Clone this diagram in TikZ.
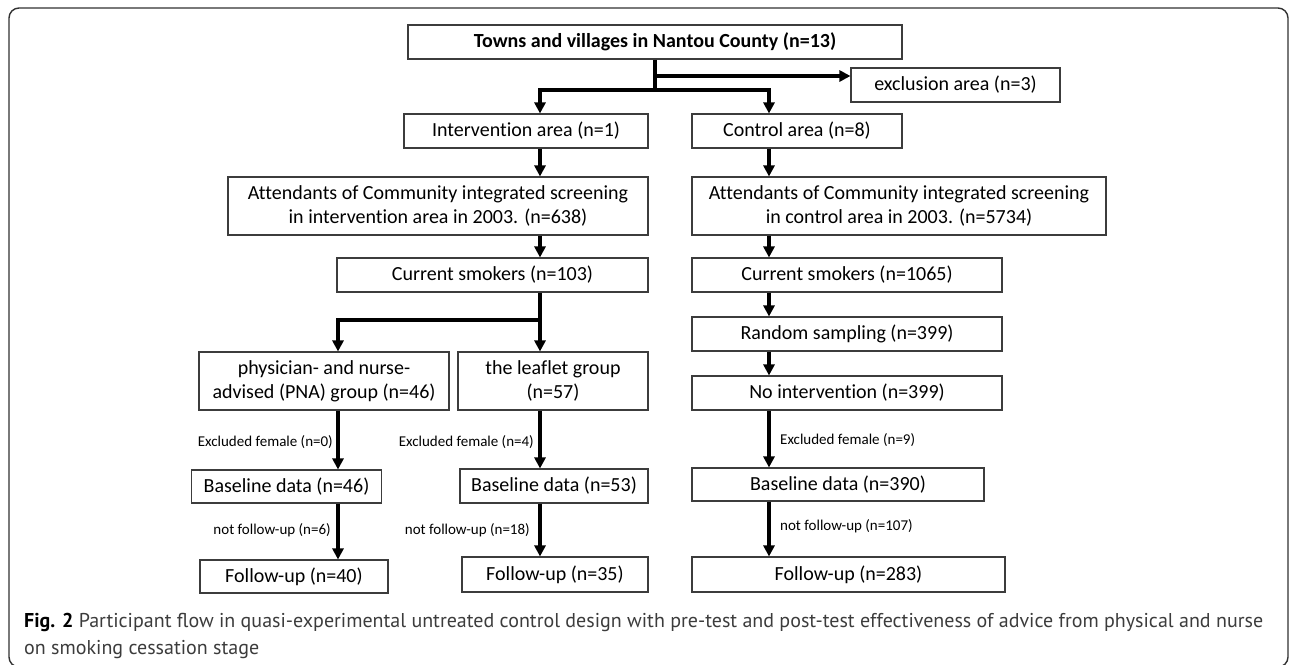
\documentclass[tikz,border=0pt]{standalone}
\usepackage{fontspec}
\setmainfont{Carlito}[Ligatures={CommonOff,ContextualOff},Contextuals=AlternateOff]
\newfontfamily\capfont{PT Sans}
\newfontfamily\lblfont{Carlito}[Ligatures={CommonOff,ContextualOff},Contextuals=AlternateOff]
\usetikzlibrary{arrows.meta}
\definecolor{boxgray}{RGB}{60,60,60}
\definecolor{capgray}{RGB}{60,60,60}
\definecolor{framegray}{RGB}{50,50,50}
\tikzset{
  box/.style={draw=boxgray, line width=1.1pt, inner sep=0pt, align=center,
    font=\fontsize{20}{24}\selectfont, text=black},
  conn/.style={line width=3.6pt, draw=black},
  arr/.style={conn, -{Triangle[width=11pt,length=11pt]}},
  lbl/.style={inner sep=0pt, text=black}
}
\newcommand{\lbltext}[1]{\lblfont\fontsize{15}{18}\selectfont #1}
\begin{document}
\begin{tikzpicture}[x=1pt,y=-1pt]
\clip (0,0) rectangle (1290,664);
\fill[white] (0,0) rectangle (1290,664);
% outer frame
\draw[framegray, line width=1.4pt, rounded corners=10pt] (9,8) rectangle (1288,667);

% column x positions
\coordinate (colL) at (540,0);
\coordinate (colP) at (338,0);
\coordinate (colC) at (769,0);

% nodes
\node[box, minimum width=494pt, minimum height=34pt] (top) at (655,42) {\textbf{Towns and villages in Nantou County (n=13)}};
\node[box, minimum width=209pt, minimum height=34pt] (excl) at (955.5,85) {exclusion area (n=3)};
\node[box, minimum width=244pt, minimum height=34pt] (intv) at (526,131) {Intervention area (n=1)};
\node[box, minimum width=210pt, minimum height=34pt] (ctrl) at (797,131) {Control area (n=8)};
\node[box, minimum width=420pt, minimum height=58pt] (attI) at (438,206) {Attendants of Community integrated screening\\in intervention area in 2003. (n=638)};
\node[box, minimum width=414pt, minimum height=58pt] (attC) at (899,206) {Attendants of Community integrated screening\\in control area in 2003. (n=5734)};
\node[box, minimum width=311pt, minimum height=34pt] (smkI) at (492.5,275) {Current smokers (n=103)};
\node[box, minimum width=310pt, minimum height=34pt] (smkC) at (847,275) {Current smokers (n=1065)};
\node[box, minimum width=310pt, minimum height=34pt] (rand) at (847,334) {Random sampling (n=399)};
\node[box, minimum width=250pt, minimum height=58pt] (pna) at (324,381) {physician- and nurse-\\advised (PNA) group (n=46)};
\node[box, minimum width=190pt, minimum height=58pt] (leaf) at (553,381) {the leaflet group\\(n=57)};
\node[box, minimum width=310pt, minimum height=34pt] (noint) at (847,393) {No intervention (n=399)};
\node[box, minimum width=190pt, minimum height=33pt] (baseP) at (286.5,486.5) {Baseline data (n=46)};
\node[box, minimum width=188pt, minimum height=34pt] (baseL) at (554,486) {Baseline data (n=53)};
\node[box, minimum width=292pt, minimum height=33pt] (baseC) at (838,484.5) {Baseline data (n=390)};
\node[box, minimum width=188pt, minimum height=33pt] (fupP) at (294,576.5) {Follow-up (n=40)};
\node[box, minimum width=186pt, minimum height=35pt] (fupL) at (555,574.5) {Follow-up (n=35)};
\node[box, minimum width=313pt, minimum height=35pt] (fupC) at (848.5,574.5) {Follow-up (n=283)};

% junction coordinates
\coordinate (jn) at (655,90);
\coordinate (ex) at (655,76);
\coordinate (jb) at (540,320);

% top split
\draw[conn] (top.south) -- (jn);
\draw[arr] (ex) -- (ex -| excl.west);
\draw[arr] (jn) -| (intv.north -| colL);
\draw[arr] (jn) -| (ctrl.north -| colC);

% intervention column
\draw[arr] (intv.south -| colL) -- (attI.north -| colL);
\draw[arr] (attI.south -| colL) -- (smkI.north -| colL);
\draw[arr] (smkI.south -| colL) -- (leaf.north -| colL);
\draw[arr] (jb) -| (pna.north -| colP);
\draw[arr] (pna.south -| colP) -- (baseP.north -| colP);
\draw[arr] (leaf.south -| colL) -- (baseL.north -| colL);
\draw[arr] (baseP.south -| colP) -- (fupP.north -| colP);
\draw[arr] (baseL.south -| colL) -- (fupL.north -| colL);

% control column
\draw[arr] (ctrl.south -| colC) -- (attC.north -| colC);
\draw[arr] (attC.south -| colC) -- (smkC.north -| colC);
\draw[arr] (smkC.south -| colC) -- (rand.north -| colC);
\draw[arr] (rand.south -| colC) -- (noint.north -| colC);
\draw[arr] (noint.south -| colC) -- (baseC.north -| colC);
\draw[arr] (baseC.south -| colC) -- (fupC.north -| colC);

% labels
\node[lbl, anchor=east] (l1) at (333,442) {\lbltext{Excluded female (n=0)}};
\node[lbl, anchor=east] (l2) at (534,442) {\lbltext{Excluded female (n=4)}};
\node[lbl, anchor=west] (l3) at (780,440) {\lbltext{Excluded female (n=9)}};
\node[lbl, anchor=east] (l4) at (331,530) {\lbltext{not follow-up (n=6)}};
\node[lbl, anchor=east] (l5) at (530,530) {\lbltext{not follow-up (n=18)}};
\node[lbl, anchor=west] (l6) at (780,526) {\lbltext{not follow-up (n=107)}};

% caption
\node[anchor=base west, inner sep=0pt, font=\capfont\fontsize{20}{27}\selectfont, text=capgray] (cap1) at (24,627)
  {\textcolor{black}{\textbf{Fig. 2}} Participant flow in quasi-experimental untreated control design with pre-test and post-test effectiveness of advice from physical and nurse};
\node[anchor=base west, inner sep=0pt, font=\capfont\fontsize{20}{27}\selectfont, text=capgray] (cap2) at (24,654)
  {on smoking cessation stage};
\end{tikzpicture}
\end{document}
